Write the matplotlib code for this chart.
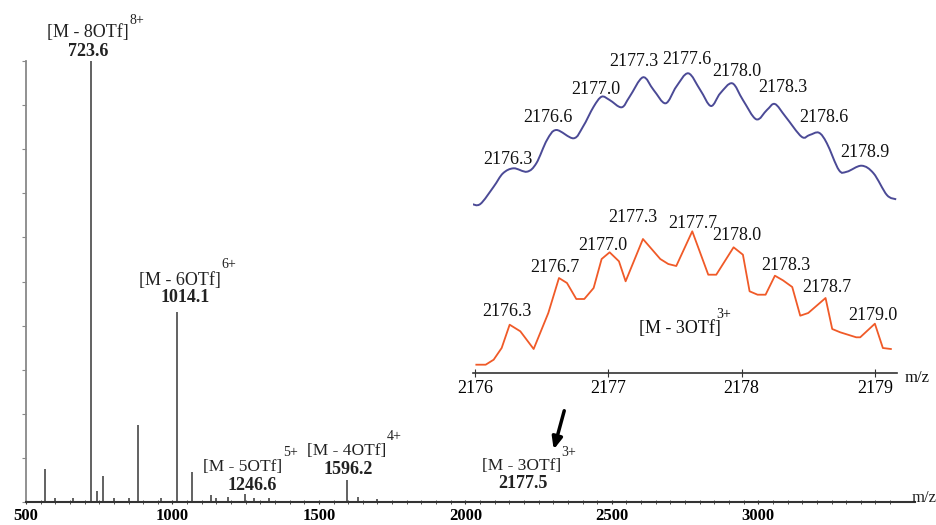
import matplotlib.pyplot as plt
from matplotlib.path import Path
from matplotlib.patches import PathPatch

plt.rcParams['font.family'] = ['Liberation Serif', 'DejaVu Serif']

W, H = 937, 525

# main spectrum (m/z, relative intensity %)
main_mz = [565, 600, 660, 723.6, 744, 764, 800, 850, 882, 960, 1014.1, 1068,
           1130, 1150, 1190, 1246.6, 1280, 1330, 1596.2, 1635, 1700]
main_int = [7.5, 1.0, 0.8, 100, 2.5, 6.0, 0.8, 1.0, 17.5, 1.0, 43, 6.8,
            1.5, 1.0, 1.2, 1.8, 1.0, 0.8, 5.0, 1.2, 0.6]
main_ticks = [500, 1000, 1500, 2000, 2500, 3000]

# inset: simulated isotope pattern (blue)
sim_mz = [2175.975, 2176.04, 2176.14, 2176.21, 2176.29, 2176.39, 2176.46, 2176.54,
          2176.61, 2176.74, 2176.81, 2176.89, 2176.95, 2177.01, 2177.10, 2177.16,
          2177.26, 2177.34, 2177.43, 2177.51, 2177.60, 2177.69, 2177.77, 2177.84,
          2177.93, 2178.01, 2178.11, 2178.19, 2178.25, 2178.33, 2178.45, 2178.51,
          2178.58, 2178.64, 2178.73, 2178.79, 2178.90, 2178.99, 2179.09, 2179.16]
sim_int = [6, 6, 23.3, 36.7, 41.7, 38.3, 46.7, 70, 80, 71.7, 83.3, 103.3, 113.3,
           110, 102.7, 113.3, 132.7, 120, 106.7, 123.3, 136.7, 120, 104, 116.7,
           126.7, 110, 90.7, 100, 106, 93.3, 73.3, 75, 77.3, 66.7, 40, 38.3, 44.3,
           36.7, 15, 10.7]
sim_labels = ['2176.3', '2176.6', '2177.0', '2177.3', '2177.6', '2178.0',
              '2178.3', '2178.6', '2178.9']

# inset: experimental isotope pattern (red)
exp_mz = [2176.01, 2176.08, 2176.14, 2176.20, 2176.26, 2176.34, 2176.44, 2176.55,
          2176.63, 2176.69, 2176.76, 2176.82, 2176.89, 2176.95, 2177.01, 2177.08,
          2177.13, 2177.26, 2177.39, 2177.45, 2177.51, 2177.63, 2177.75, 2177.81,
          2177.94, 2178.01, 2178.06, 2178.12, 2178.18, 2178.25, 2178.31, 2178.38,
          2178.44, 2178.50, 2178.63, 2178.68, 2178.74, 2178.86, 2178.89, 2179.00,
          2179.06, 2179.12]
exp_int = [8.3, 8.3, 13.3, 25, 48.3, 41.7, 24, 60, 95, 90, 74, 74, 85, 114, 120.7,
           111.7, 91.7, 134, 114, 109, 107, 141.7, 98.3, 98.3, 125.7, 118.3, 81.7,
           78.3, 78.3, 97.3, 92.7, 86, 57.3, 60, 75, 44, 40.7, 35.7, 35.7, 49.3,
           25, 24]
exp_labels = ['2176.3', '2176.7', '2177.0', '2177.3', '2177.7', '2178.0',
              '2178.3', '2178.7', '2179.0']
inset_ticks = [2176, 2177, 2178, 2179]


def fx(px):
    return px / W


def fy(py):
    return 1 - py / H


def ptext(px, py, s, **kw):
    kw.setdefault('ha', 'center')
    kw.setdefault('va', 'center')
    fig.text(fx(px), fy(py), s, **kw)


def smooth_line(xs, ys):
    # draw a smooth (catmull-rom style) line through the given points
    pts = list(zip(xs, ys))
    n = len(pts)
    verts = [pts[0]]
    codes = [Path.MOVETO]
    for i in range(n - 1):
        p0 = pts[max(i - 1, 0)]
        p1 = pts[i]
        p2 = pts[i + 1]
        p3 = pts[min(i + 2, n - 1)]
        c1 = (p1[0] + (p2[0] - p0[0]) / 6, p1[1] + (p2[1] - p0[1]) / 6)
        c2 = (p2[0] - (p3[0] - p1[0]) / 6, p2[1] - (p3[1] - p1[1]) / 6)
        verts += [c1, c2, p2]
        codes += [Path.CURVE4] * 3
    return Path(verts, codes)


fig = plt.figure(figsize=(9.37, 5.25), dpi=100)

# ---- main spectrum
ax = fig.add_axes([fx(26), fy(502), fx(915) - fx(26), fy(61) - fy(502)])
ax.vlines(main_mz, 0, main_int, color='#555555', lw=1.3)
ax.set_xlim(510, 3535)
ax.set_ylim(0, 100)
for s in ['top', 'right']:
    ax.spines[s].set_visible(False)
ax.spines['left'].set_color('#888888')
ax.spines['left'].set_linewidth(1.3)
ax.spines['bottom'].set_color('#333333')
ax.spines['bottom'].set_linewidth(1.5)
ax.set_yticks(range(0, 101, 10))
ax.set_yticklabels([])
ax.tick_params(axis='y', length=3, color='#888888', direction='out')
ax.set_xticks(main_ticks)
ax.set_xticks(range(550, 3500, 50), minor=True)
ax.set_xticklabels([str(t) for t in main_ticks], fontsize=12, fontweight='bold')
ax.tick_params(axis='x', which='both', direction='inout', length=3, color='#333333', pad=3)
ax.patch.set_alpha(0)

ax.annotate('', xy=(2299, 11.3), xytext=(2340, 21.3),
            arrowprops=dict(arrowstyle='-|>,head_width=0.3,head_length=0.7',
                            color='black', lw=2.5))

lab = dict(fontsize=13, color='#222222')
num = dict(fontsize=13, color='#222222', fontweight='bold')
sup = dict(fontsize=10, color='#222222')
ptext(88, 33, '[M - 8OTf]', **lab)
ptext(88, 52, '723.6', **num)
ptext(137, 20, '8+', **sup)
ptext(180, 280, '[M - 6OTf]', **lab)
ptext(185, 297, '1014.1', **num)
ptext(229, 265, '6+', **sup)
ptext(243, 467, '[M - 5OTf]', fontsize=12.5, color='#222222')
ptext(252, 485, '1246.6', **num)
ptext(291, 452, '5+', **sup)
ptext(347, 451, '[M - 4OTf]', fontsize=12.5, color='#222222')
ptext(348, 469, '1596.2', **num)
ptext(394, 437, '4+', **sup)
ptext(522, 466, '[M - 3OTf]', fontsize=12.5, color='#222222')
ptext(523, 484, '2177.5', **num)
ptext(569, 453, '3+', **sup)
ptext(924, 498, 'm/z', fontsize=12, color='#222222')

# ---- inset, experimental (red) with axis
axr = fig.add_axes([fx(473), fy(373), fx(897) - fx(473), fy(205) - fy(373)])
axr.plot(exp_mz, exp_int, color='#f05a28', lw=1.3)
axr.set_xlim(2175.985, 2179.166)
axr.set_ylim(0, 168)
for s in ['top', 'right', 'left']:
    axr.spines[s].set_visible(False)
axr.spines['bottom'].set_color('#333333')
axr.spines['bottom'].set_linewidth(1.2)
axr.set_yticks([])
axr.set_xticks(inset_ticks)
axr.set_xticklabels([str(t) for t in inset_ticks], fontsize=13)
axr.tick_params(axis='x', direction='inout', length=6, color='#333333', pad=2)
axr.patch.set_alpha(0)

# ---- inset, simulated (blue)
axb = fig.add_axes([fx(473), fy(210), fx(897) - fx(473), fy(60) - fy(210)])
axb.add_patch(PathPatch(smooth_line(sim_mz, sim_int), facecolor='none',
                        edgecolor='#4b4a96', lw=1.4))
axb.set_xlim(2175.985, 2179.166)
axb.set_ylim(0, 150)
axb.axis('off')

sim_pos = [(508, 160), (548, 118), (596, 89), (634, 62), (687, 60), (737, 72),
           (783, 88), (824, 117), (865, 153)]
for (px, py), s in zip(sim_pos, sim_labels):
    ptext(px, py, s, fontsize=13, color='#111111')

exp_pos = [(507, 312), (555, 268), (603, 245), (633, 218), (693, 223), (737, 235),
           (786, 265), (827, 288), (873, 315)]
for (px, py), s in zip(exp_pos, exp_labels):
    ptext(px, py, s, fontsize=13, color='#111111')

ptext(680, 328, '[M - 3OTf]', fontsize=13, color='#111111')
ptext(724, 314, '3+', fontsize=10, color='#111111')
ptext(917, 378, 'm/z', fontsize=12, color='#111111')

fig.savefig('out.png', dpi=100)
